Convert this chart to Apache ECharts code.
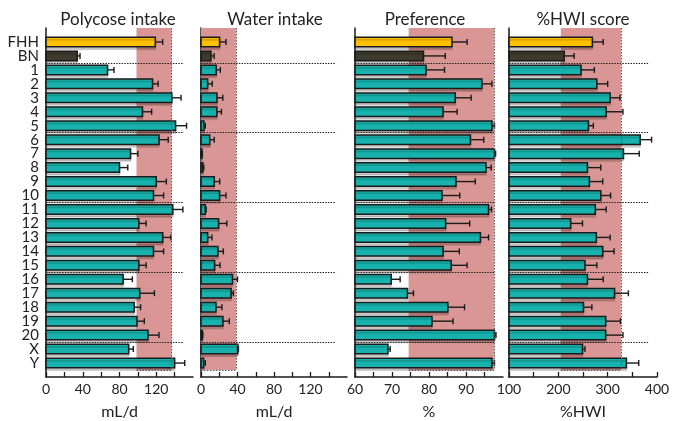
<!DOCTYPE html>
<html><head><meta charset="utf-8">
<script src="https://cdn.jsdelivr.net/npm/echarts@6/dist/echarts.min.js"></script>
<style>html,body{margin:0;padding:0;background:#fff}#c{width:685px;height:421px}</style>
</head><body><div id="c"></div>
<script>
// ---- data ----
const categories = ['FHH','BN','1','2','3','4','5','6','7','8','9','10','11','12','13','14','15','16','17','18','19','20','X','Y'];
const polycose    = [119,34,67,116,137,105,141,123,92,80,120,117,138,101,127,117,101,84,102,96,99,111,90,140];
const polycoseErr = [8,3,7,6,10,10,12,10,8,9,11,11,11,8,9,11,8,10,16,7,8,12,5,11];
const water       = [20.4,10.9,16.7,7.3,17.4,17.4,3.2,9.5,1,2,14.5,20.4,4.7,19.3,7.3,18.5,14.9,34.5,33,16.4,24,1.5,40.4,2.9];
const waterErr    = [7,3.5,4.5,5,6.5,5,1.5,5,0.5,1,6,7,1,9,4.7,6,6,5.5,2.5,6.5,7,0.5,0.6,1.8];
const preference    = [86.2,78.5,79.2,94.3,87.1,83.8,97,91.2,97.7,95.4,87.3,83.5,96.1,84.5,93.9,83.8,86,69.8,74.2,85.1,80.8,97.7,68.9,97];
const preferenceErr = [4.1,5.9,5,2.7,4.3,3.8,0.7,3.6,0.3,1.4,5.2,4.8,0.8,6.5,2.2,4.4,4.3,2.4,1.6,4.5,5.7,0.4,0.6,0.7];
const hwi    = [269,212,246,278,305,297,261,366,332,259,263,286,275,225,277,290,254,259,314,251,296,296,249,338];
const hwiErr = [22,20,27,22,20,34,10,23,32,27,27,20,22,24,28,23,24,32,28,17,30,35,5,25];

const panelTitles = ['Polycose intake','Water intake','Preference','%HWI score'];
const axisNames   = ['mL/d','mL/d','%','%HWI'];
const axisMin   = [0,0,60,100];
const axisMax   = [160,160,100,400];
const tickStep  = [20,20,5,50];
const labelStep = [40,40,10,100];
const showMaxLabel = [false,false,false,true];
const normalRange = [[98.5,136.5],[0,38.5],[74.5,97.6],[205,327]];
const separators = [1.5,6.5,11.5,16.5,21.5];
const separatorEnd = [150,148,97.6,382];

const values = [polycose, water, preference, hwi];
const errors = [polycoseErr, waterErr, preferenceErr, hwiErr];

// ---- layout ----
const gridLeft  = [46,201,355,509];
const gridWidth = [147,146,148,148];
const titleX    = [113,270,420,578];
const FONT = 'Lato, "Open Sans", sans-serif';

const chart = echarts.init(document.getElementById('c'), null, {renderer:'canvas'});

function makeRender(p){
  return function(params, api){
    const v = api.value(0), idx = api.value(1), e = api.value(2);
    const p0 = api.coord([axisMin[p], idx]);
    const p1 = api.coord([v, idx]);
    const p2 = api.coord([v + e, idx]);
    const h = 9.5;
    const color = idx === 0 ? '#FFC000' : (idx === 1 ? '#3E3B2C' : '#17B2AD');
    return {type:'group', children:[
      {type:'rect', shape:{x:p0[0], y:p1[1]-h/2, width:p1[0]-p0[0], height:h},
        style:{fill:color, stroke:'#1a1a1a', lineWidth:1.5, shadowColor:'rgba(0,0,0,0.18)', shadowOffsetY:2.5, shadowBlur:1}},
      {type:'line', shape:{x1:p1[0], y1:p1[1], x2:p2[0], y2:p2[1]}, style:{stroke:'#1a1a1a', lineWidth:1.4}},
      {type:'line', shape:{x1:p2[0], y1:p1[1]-3, x2:p2[0], y2:p1[1]+3}, style:{stroke:'#1a1a1a', lineWidth:1.4}}
    ]};
  };
}

const grid = [], xAxis = [], yAxis = [], series = [], title = [];
for (let p = 0; p < 4; p++) {
  grid.push({left: gridLeft[p], width: gridWidth[p], top: 28, height: 349, containLabel:false, outerBoundsMode:'none'});
  title.push({text: panelTitles[p], left: titleX[p], top: 6, textAlign: 'center',
    textStyle:{fontFamily: FONT, fontSize: 17, fontWeight: 'normal', color:'#222'}});
  xAxis.push({type:'value', gridIndex:p, position:'bottom', min:axisMin[p], max:axisMax[p], interval:tickStep[p],
    name: axisNames[p], nameLocation:'middle', nameGap: 27,
    nameTextStyle:{fontFamily: FONT, fontSize: 16, color:'#222'},
    axisLine:{show:true, onZero:false, lineStyle:{color:'#1a1a1a', width:1.5}},
    axisTick:{show:true, inside:true, length:5, lineStyle:{color:'#1a1a1a', width:1.3}},
    splitLine:{show:false},
    axisLabel:{fontFamily: FONT, fontSize: 14, color:'#222', margin: 5, showMaxLabel: showMaxLabel[p],
      formatter: (v) => ((v - axisMin[p]) % labelStep[p] === 0 && (v < axisMax[p] || showMaxLabel[p])) ? String(v) : ''}
  });
  yAxis.push({type:'value', gridIndex:p, position:'left', min:-1, max:24, interval:1, inverse:true,
    axisLine:{show:true, onZero:false, lineStyle:{color:'#1a1a1a', width:1.5}},
    axisTick:{show:false}, splitLine:{show:false},
    axisLabel:{show: p === 0, fontFamily: FONT, fontSize: 15, color:'#222', margin: 7,
      formatter: (v) => categories[v] !== undefined ? categories[v] : ''}
  });
  // normal-range shading
  series.push({type:'line', xAxisIndex:p, yAxisIndex:p, data:[], z:1, silent:true,
    markArea:{silent:true, itemStyle:{color:'#D99694'},
      data:[[{coord:[normalRange[p][0], -1]}, {coord:[normalRange[p][1], 23.5]}]]},
    markLine:{silent:true, symbol:'none', label:{show:false},
      lineStyle:{type:[1.5,1.5], color:'#555', width:1},
      data:[[{coord:[normalRange[p][1], -1]}, {coord:[normalRange[p][1], 23.5]}],
            [{coord:[normalRange[p][0], 23.5]}, {coord:[normalRange[p][1], 23.5]}]]}
  });
  series.push({type:'custom', xAxisIndex:p, yAxisIndex:p, z:3,
    renderItem: makeRender(p),
    encode:{x:0, y:1},
    data: values[p].map((v,i) => [v, i, errors[p][i]]),
    markLine:{silent:true, symbol:'none', label:{show:false}, z:4,
      lineStyle:{type:[1.5,1.2], color:'#222', width:1.2},
      data: separators.map(y => [{coord:[axisMin[p], y]}, {coord:[separatorEnd[p], y]}])}
  });
}

chart.setOption({animation:false, backgroundColor:'#fff', title, grid, xAxis, yAxis, series});
</script></body></html>
